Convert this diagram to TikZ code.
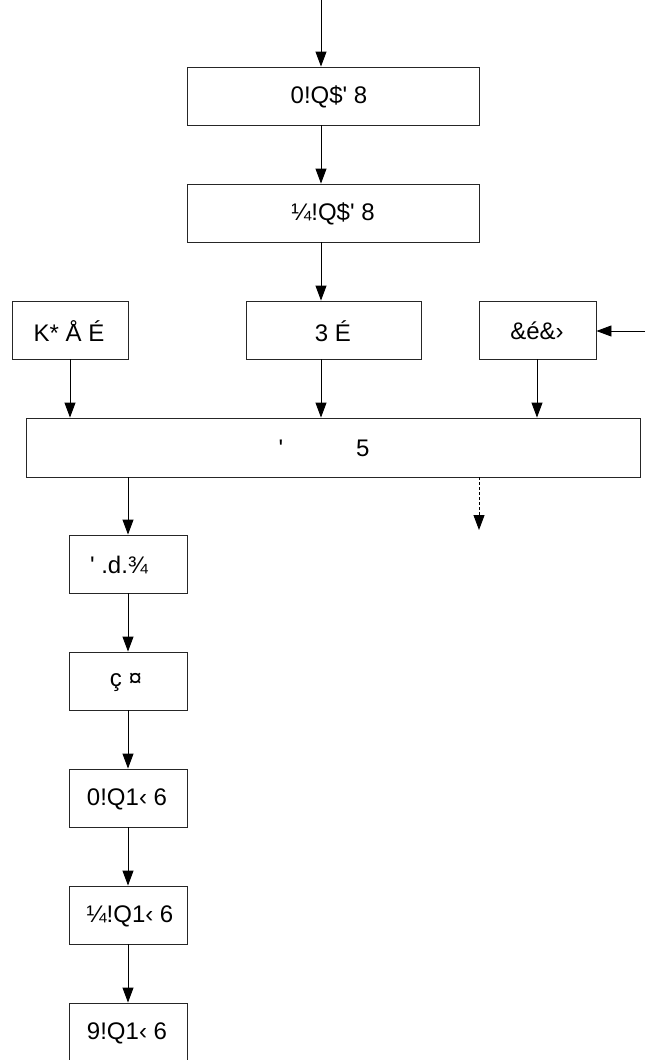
\documentclass[tikz,border=0pt]{standalone}
\usepackage{fontspec}
\setmainfont{Liberation Sans}
\setmonofont{Liberation Sans}
\usetikzlibrary{arrows.meta,calc}
\newcommand\apos{{\ttfamily'}}
\begin{document}
\begin{tikzpicture}[x=1pt,y=-1pt,
  box/.style={draw=black!85,line width=0.9pt,rectangle,inner sep=0pt,minimum height=58pt},
  lbl/.style={inner sep=0pt,font=\fontsize{24}{28}\selectfont},
  arr/.style={draw=black,line width=0.9pt,-{Triangle[length=15pt,width=11pt]}},
  darr/.style={arr,dash pattern=on 3pt off 2pt}]
\useasboundingbox (0,0) rectangle (646,1060);
\clip (0,0) rectangle (646,1060);
% boxes
\node[box,minimum width=292pt] (b1) at (333,96) {};
\node[box,minimum width=292pt] (b2) at (333,213) {};
\node[box,minimum width=116pt] (k) at (70,330) {};
\node[box,minimum width=175pt] (m) at (333.5,330) {};
\node[box,minimum width=117pt] (r) at (537.5,330) {};
\node[box,minimum width=614pt,minimum height=59pt] (big) at (333,447.5) {};
\node[box,minimum width=118pt] (l1) at (128,564) {};
\node[box,minimum width=118pt] (l2) at (128,681) {};
\node[box,minimum width=118pt] (l3) at (128,798) {};
\node[box,minimum width=118pt] (l4) at (128,915) {};
\node[box,minimum width=118pt,minimum height=62pt] (l5) at (128,1034) {};
% texts
\node[lbl] (t1) at (329,97) {0!Q\$\apos{} 8};
\node[lbl] (t2) at (333,214) {¼!Q\$\apos{} 8};
\node[lbl] (tk) at (69,331) {K* Å É};
\node[lbl] (tm) at (333,331) {3 É};
\node[lbl] (tr) at (537,331) {\&é\&›};
\node[lbl] (tb) at (324,448) {\apos\hspace{73pt}5};
\node[lbl] (tl1) at (119,565) {\apos{} .d.¾};
\node[lbl] (tl2) at (126,682) {ç ¤};
\node[lbl] (tl3) at (127,799) {0!Q1‹ 6};
\node[lbl] (tl4) at (130,916) {¼!Q1‹ 6};
\node[lbl] (tl5) at (127,1033) {9!Q1‹ 6};
% helper coordinates
\coordinate (cx) at (321,0);
\coordinate (rin) at (645,331);
\coordinate (dend) at (479,530);
% connectors
\draw[arr] (cx) -- (b1.north -| cx);
\draw[arr] (b1.south -| cx) -- (b2.north -| cx);
\draw[arr] (b2.south -| cx) -- (m.north -| cx);
\draw[arr] (rin) -- (r.east |- rin);
\draw[arr] (k.south) -- (big.north -| k.south);
\draw[arr] (m.south -| cx) -- (big.north -| cx);
\draw[arr] (r.south -| 537,0) -- (big.north -| 537,0);
\draw[arr] (big.south -| l1.north) -- (l1.north);
\draw[darr] (big.south -| dend) -- (dend);
\draw[arr] (l1.south) -- (l2.north);
\draw[arr] (l2.south) -- (l3.north);
\draw[arr] (l3.south) -- (l4.north);
\draw[arr] (l4.south) -- (l5.north);
\end{tikzpicture}
\end{document}
